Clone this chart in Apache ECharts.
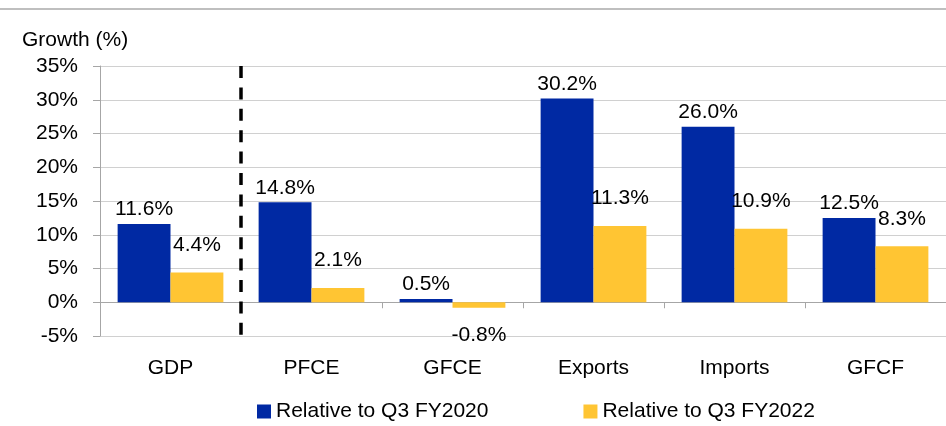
<!DOCTYPE html>
<html>
<head>
<meta charset="utf-8">
<script src="https://cdn.jsdelivr.net/npm/echarts@6/dist/echarts.min.js"></script>
<style>
  html, body { margin: 0; padding: 0; background: #fff; }
  #chart { width: 946px; height: 426px; }
</style>
</head>
<body>
<div id="chart"></div>
<script>
var categories = ['GDP', 'PFCE', 'GFCE', 'Exports', 'Imports', 'GFCF'];
var vsFY2020 = [11.6, 14.8, 0.5, 30.2, 26.0, 12.5];
var vsFY2022 = [4.4, 2.1, -0.8, 11.3, 10.9, 8.3];
var seriesNames = ['Relative to Q3 FY2020', 'Relative to Q3 FY2022'];
// separator between GDP and the components (category boundary index)
var dividerLine = [[1, 35], [1, -5]];

var font = 'Liberation Sans';
var chart = echarts.init(document.getElementById('chart'));

function pct(p) { return p.value.toFixed(1) + '%'; }

var option = {
  animation: false,
  title: {
    text: 'Growth (%)',
    left: 17,
    top: 25,
    textStyle: { fontFamily: font, fontSize: 21, fontWeight: 'normal', color: '#000' }
  },
  legend: {
    data: seriesNames,
    left: 252,
    top: 396,
    itemWidth: 14,
    itemHeight: 14,
    itemGap: 95,
    icon: 'rect',
    textStyle: { fontFamily: font, fontSize: 21, color: '#000' }
  },
  grid: { left: 100, top: 66, width: 851, bottom: 90 },
  graphic: [{
    type: 'line',
    shape: { x1: 0, y1: 9, x2: 946, y2: 9 },
    style: { stroke: '#bfbfbf', lineWidth: 2 }
  }],
  xAxis: [{
    type: 'category',
    data: categories,
    axisLine: { onZero: true, lineStyle: { color: '#a6a6a6' } },
    axisTick: { show: true, length: 6, inside: false, lineStyle: { color: '#a6a6a6' } },
    axisLabel: { interval: 0, margin: 22, fontFamily: font, fontSize: 21, color: '#000' }
  }, {
    type: 'value',
    min: 0,
    max: 6,
    show: false
  }],
  yAxis: {
    type: 'value',
    min: -5,
    max: 35,
    interval: 5,
    axisLine: { show: true, lineStyle: { color: '#a6a6a6' } },
    axisTick: { show: true, length: 7, lineStyle: { color: '#a6a6a6' } },
    axisLabel: { formatter: '{value}%', margin: 22, fontFamily: font, fontSize: 21, color: '#000' },
    splitLine: { lineStyle: { color: '#d0d0d0' } }
  },
  series: [{
    name: seriesNames[0],
    type: 'bar',
    data: vsFY2020,
    barGap: '0%',
    barCategoryGap: '25%',
    itemStyle: { color: '#0029A3' },
    label: {
      show: true, position: 'top', distance: 4, formatter: pct,
      fontFamily: font, fontSize: 21, color: '#000'
    }
  }, {
    name: seriesNames[1],
    type: 'bar',
    data: vsFY2022.map(function (v) {
      return v < 0 ? { value: v, label: { position: 'bottom' } } : v;
    }),
    itemStyle: { color: '#FFC533' },
    label: {
      show: true, position: 'top', distance: 17, formatter: pct,
      fontFamily: font, fontSize: 21, color: '#000'
    }
  }, {
    type: 'line',
    xAxisIndex: 1,
    data: dividerLine,
    symbol: 'none',
    silent: true,
    z: 5,
    lineStyle: { color: '#000', width: 3.5, type: [12, 9.4] }
  }]
};
chart.setOption(option);
</script>
</body>
</html>
